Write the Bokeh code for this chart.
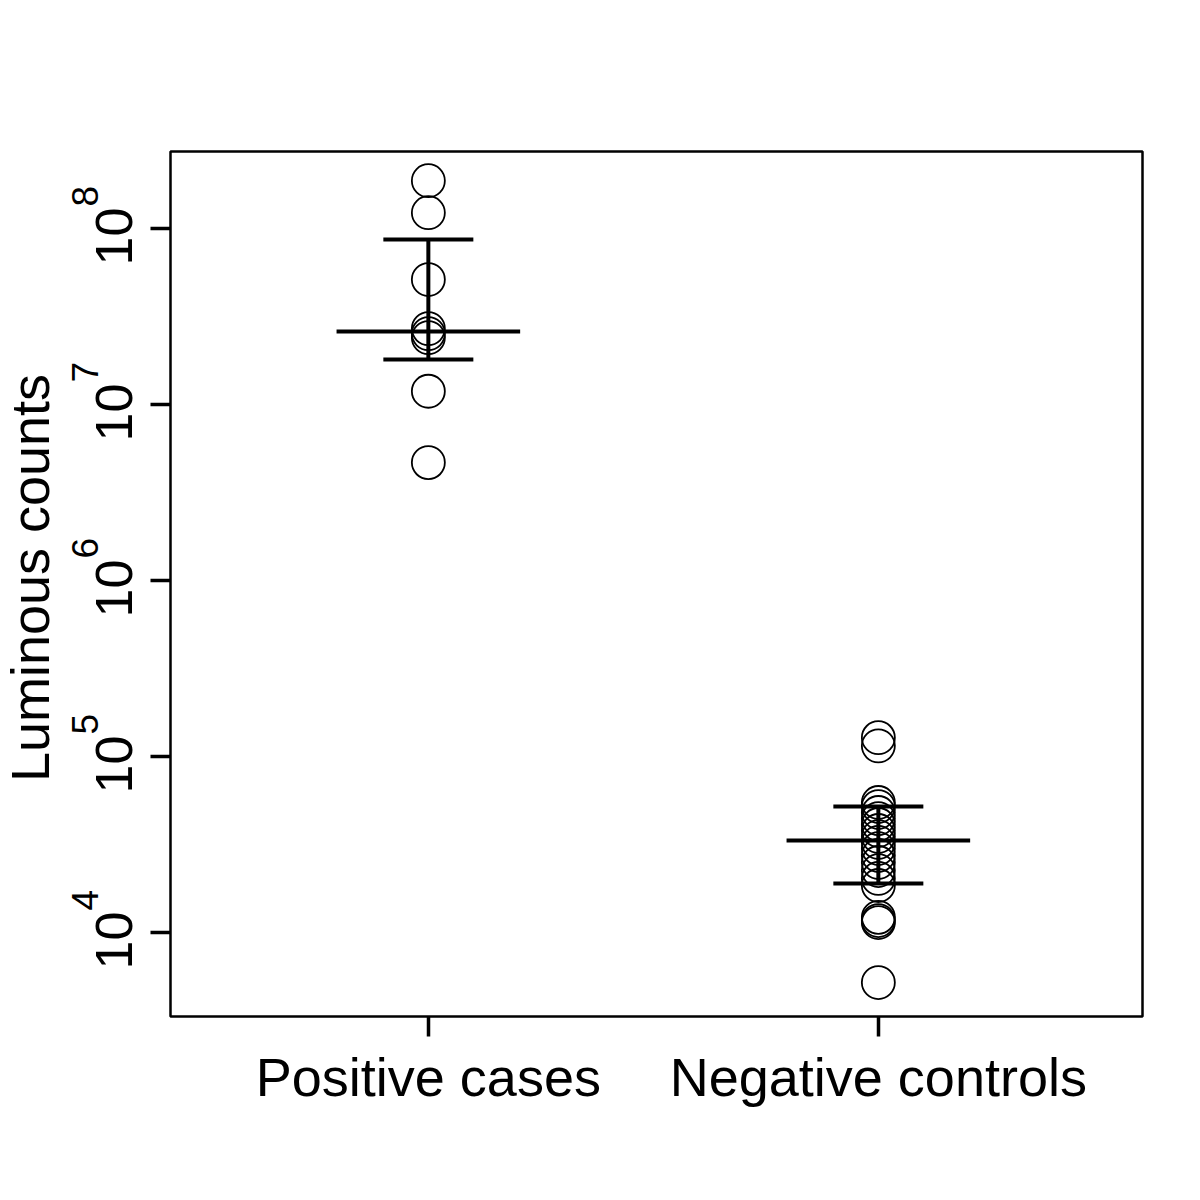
import math
from bokeh.plotting import figure
from bokeh.layouts import row
from bokeh.models import FixedTicker, Range1d, CustomJSTickFormatter
from bokeh.core.properties import value
from bokeh.embed import file_html
from bokeh.resources import INLINE

# ---- data ----
categories = ["Positive cases", "Negative controls"]
group_x = [1.0, 2.0]

positive_counts = [1.87e8, 1.23e8, 5.13e7, 2.70e7, 2.53e7, 2.40e7, 1.19e7, 4.68e6]
negative_counts = [1.28e5, 1.15e5, 5.48e4, 5.20e4, 4.81e4, 4.44e4, 4.11e4, 3.80e4,
                   3.51e4, 3.25e4, 3.00e4, 2.74e4, 2.50e4, 2.25e4, 2.03e4, 1.85e4,
                   1.22e4, 1.17e4, 1.14e4, 5.20e3]

group_mean = [2.60e7, 3.33e4]
group_upper = [8.66e7, 5.20e4]
group_lower = [1.80e7, 1.90e4]

y_ticks = [1e4, 1e5, 1e6, 1e7, 1e8]
y_tick_base = ["10", "10", "10", "10", "10"]
y_tick_exp = ["4", "5", "6", "7", "8"]
y_label = "Luminous counts"

FONT = "Liberation Sans"
W_LEFT = 145
TOTAL_W = 1192
TOTAL_H = 1192

x_range = Range1d(0.427, 2.587)
y_range = Range1d(3334, 2.74e8)

# ---- left strip: rotated y tick labels with superscripts and the axis title ----
lf = figure(width=W_LEFT, height=TOTAL_H, y_axis_type="log",
            x_range=Range1d(0, W_LEFT), y_range=y_range,
            output_backend="svg", toolbar_location=None,
            x_axis_location=None, y_axis_location=None,
            min_border_left=0, min_border_right=0, min_border_top=151,
            min_border_bottom=176)
lf.grid.visible = False
lf.outline_line_color = None
lf.background_fill_color = "white"
lf.border_fill_color = "white"

n = len(y_ticks)
lf.text(x=[113] * n, y=y_ticks, text=y_tick_base, angle=math.pi / 2,
        y_offset=8, text_align="center", text_baseline="alphabetic",
        text_font=value(FONT), text_font_size="52px", text_color="black")
lf.text(x=[84] * n, y=y_ticks, text=y_tick_exp, angle=math.pi / 2,
        y_offset=-22, text_align="left", text_baseline="alphabetic",
        text_font=value(FONT), text_font_size="37px", text_color="black")
lf.text(x=[29], y=[math.sqrt(y_range.start * y_range.end)], text=[y_label],
        angle=math.pi / 2, y_offset=-6, text_align="center", text_baseline="alphabetic",
        text_font=value(FONT), text_font_size="54px", text_color="black")

# ---- main plot ----
p = figure(width=TOTAL_W - W_LEFT, height=TOTAL_H, y_axis_type="log",
           x_range=x_range, y_range=y_range,
           output_backend="svg", toolbar_location=None,
           min_border_left=170 - W_LEFT, min_border_top=151, min_border_right=50,
           min_border_bottom=176)
p.grid.visible = False
p.outline_line_color = "black"
p.outline_line_width = 2.5
p.background_fill_color = "white"
p.border_fill_color = "white"

# points
p.scatter(x=[group_x[0]] * len(positive_counts), y=positive_counts, marker="circle",
          size=33, fill_color=None, line_color="black", line_width=1.8)
p.scatter(x=[group_x[1]] * len(negative_counts), y=negative_counts, marker="circle",
          size=33, fill_color=None, line_color="black", line_width=1.8)

# error bars
cap = 0.1
mean_w = 0.204
LW = 4
p.segment(x0=group_x, y0=group_lower, x1=group_x, y1=group_upper,
          line_color="black", line_width=LW)
p.segment(x0=[x - cap for x in group_x], y0=group_upper,
          x1=[x + cap for x in group_x], y1=group_upper, line_color="black", line_width=LW)
p.segment(x0=[x - cap for x in group_x], y0=group_lower,
          x1=[x + cap for x in group_x], y1=group_lower, line_color="black", line_width=LW)
p.segment(x0=[x - mean_w for x in group_x], y0=group_mean,
          x1=[x + mean_w for x in group_x], y1=group_mean, line_color="black", line_width=LW)

# x axis
xa = p.xaxis[0]
xa.ticker = FixedTicker(ticks=group_x)
xa.major_label_overrides = {group_x[i]: categories[i] for i in range(len(categories))}
xa.minor_tick_line_color = None
xa.axis_line_color = None
xa.major_tick_out = 20
xa.major_tick_in = 0
xa.major_tick_line_width = 3.5
xa.major_label_text_font = FONT
xa.major_label_text_font_size = "54px"
xa.major_label_standoff = 10
xa.major_label_text_color = "black"

# y axis: ticks only
ya = p.yaxis[0]
ya.ticker = FixedTicker(ticks=y_ticks)
ya.formatter = CustomJSTickFormatter(code="return ''")
ya.minor_tick_line_color = None
ya.axis_line_color = None
ya.major_tick_out = 20
ya.major_tick_in = 0
ya.major_tick_line_width = 3.5
ya.major_label_standoff = 0
ya.major_label_text_font_size = "1px"

layout = row(lf, p, spacing=0)
open("out.html", "w").write(file_html(layout, INLINE))
